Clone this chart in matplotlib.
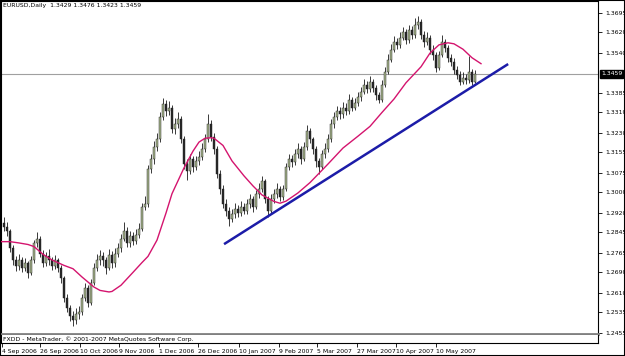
import matplotlib
matplotlib.use("Agg")
import matplotlib.pyplot as plt
from matplotlib.patches import Rectangle
from matplotlib.transforms import blended_transform_factory

plt.rcParams['font.family'] = ['Liberation Sans Narrow', 'DejaVu Sans']

# daily EURUSD bars
opens = [1.2880, 1.2867, 1.2852, 1.2783, 1.2736, 1.2713, 1.2736, 1.2706, 1.2725, 1.2686,
         1.2736, 1.2802, 1.2821, 1.2763, 1.2725, 1.2752, 1.2736, 1.2713, 1.2736, 1.2706,
         1.2667, 1.2590, 1.2552, 1.2521, 1.2505, 1.2528, 1.2536, 1.2590, 1.2629, 1.2571,
         1.2648, 1.2706, 1.2736, 1.2752, 1.2736, 1.2706, 1.2759, 1.2725, 1.2763, 1.2783,
         1.2821, 1.2852, 1.2802, 1.2829, 1.2813, 1.2836, 1.2860, 1.2944, 1.2956, 1.3091,
         1.3129, 1.3175, 1.3206, 1.3291, 1.3341, 1.3314, 1.3329, 1.3245, 1.3264, 1.3283,
         1.3206, 1.3110, 1.3083, 1.3129, 1.3098, 1.3121, 1.3137, 1.3168, 1.3206, 1.3264,
         1.3214, 1.3168, 1.3071, 1.3014, 1.2956, 1.2929, 1.2898, 1.2917, 1.2937, 1.2921,
         1.2944, 1.2929, 1.2956, 1.2975, 1.2944, 1.2994, 1.3014, 1.3044, 1.2975, 1.2929,
         1.2975, 1.2994, 1.3014, 1.2983, 1.3014, 1.3098, 1.3129, 1.3117, 1.3148, 1.3168,
         1.3129, 1.3175, 1.3237, 1.3206, 1.3168, 1.3121, 1.3098, 1.3148, 1.3168, 1.3206,
         1.3264, 1.3291, 1.3314, 1.3302, 1.3329, 1.3314, 1.3360, 1.3329, 1.3345, 1.3368,
         1.3391, 1.3418, 1.3399, 1.3429, 1.3406, 1.3379, 1.3360, 1.3418, 1.3468, 1.3514,
         1.3553, 1.3583, 1.3572, 1.3599, 1.3622, 1.3591, 1.3630, 1.3610, 1.3649, 1.3660,
         1.3610, 1.3583, 1.3599, 1.3553, 1.3533, 1.3483, 1.3533, 1.3583, 1.3560, 1.3522,
         1.3506, 1.3476, 1.3456, 1.3429, 1.3445, 1.3437, 1.3468, 1.3429]
closes = [1.2867, 1.2852, 1.2783, 1.2736, 1.2713, 1.2736, 1.2706, 1.2725, 1.2686, 1.2736,
          1.2802, 1.2821, 1.2763, 1.2725, 1.2752, 1.2736, 1.2713, 1.2736, 1.2706, 1.2667,
          1.2590, 1.2552, 1.2521, 1.2505, 1.2528, 1.2536, 1.2590, 1.2629, 1.2571, 1.2648,
          1.2706, 1.2736, 1.2752, 1.2736, 1.2706, 1.2759, 1.2725, 1.2763, 1.2783, 1.2821,
          1.2852, 1.2802, 1.2829, 1.2813, 1.2836, 1.2860, 1.2944, 1.2956, 1.3091, 1.3129,
          1.3175, 1.3206, 1.3291, 1.3341, 1.3314, 1.3329, 1.3245, 1.3264, 1.3283, 1.3206,
          1.3110, 1.3083, 1.3129, 1.3098, 1.3121, 1.3137, 1.3168, 1.3206, 1.3264, 1.3214,
          1.3168, 1.3071, 1.3014, 1.2956, 1.2929, 1.2898, 1.2917, 1.2937, 1.2921, 1.2944,
          1.2929, 1.2956, 1.2975, 1.2944, 1.2994, 1.3014, 1.3044, 1.2975, 1.2929, 1.2975,
          1.2994, 1.3014, 1.2983, 1.3014, 1.3098, 1.3129, 1.3117, 1.3148, 1.3168, 1.3129,
          1.3175, 1.3237, 1.3206, 1.3168, 1.3121, 1.3098, 1.3148, 1.3168, 1.3206, 1.3264,
          1.3291, 1.3314, 1.3302, 1.3329, 1.3314, 1.3360, 1.3329, 1.3345, 1.3368, 1.3391,
          1.3418, 1.3399, 1.3429, 1.3406, 1.3379, 1.3360, 1.3418, 1.3468, 1.3514, 1.3553,
          1.3583, 1.3572, 1.3599, 1.3622, 1.3591, 1.3630, 1.3610, 1.3649, 1.3660, 1.3610,
          1.3583, 1.3599, 1.3553, 1.3533, 1.3483, 1.3533, 1.3583, 1.3560, 1.3522, 1.3506,
          1.3476, 1.3456, 1.3429, 1.3445, 1.3437, 1.3468, 1.3429, 1.3459]
highs = [1.2905, 1.2884, 1.2860, 1.2795, 1.2752, 1.2760, 1.2748, 1.2745, 1.2735, 1.2755,
         1.2815, 1.2845, 1.2830, 1.2775, 1.2770, 1.2780, 1.2750, 1.2758, 1.2745, 1.2720,
         1.2675, 1.2605, 1.2565, 1.2540, 1.2550, 1.2560, 1.2605, 1.2650, 1.2640, 1.2665,
         1.2725, 1.2760, 1.2775, 1.2770, 1.2748, 1.2780, 1.2772, 1.2785, 1.2805, 1.2840,
         1.2885, 1.2865, 1.2850, 1.2845, 1.2858, 1.2880, 1.2960, 1.2985, 1.3105, 1.3150,
         1.3200, 1.3230, 1.3310, 1.3365, 1.3360, 1.3355, 1.3340, 1.3290, 1.3310, 1.3295,
         1.3220, 1.3130, 1.3150, 1.3140, 1.3140, 1.3160, 1.3190, 1.3225, 1.3305, 1.3280,
         1.3230, 1.3180, 1.3085, 1.3030, 1.2975, 1.2945, 1.2935, 1.2960, 1.2950, 1.2965,
         1.2960, 1.2975, 1.2995, 1.2985, 1.3010, 1.3035, 1.3065, 1.3050, 1.2985, 1.2995,
         1.3015, 1.3035, 1.3025, 1.3030, 1.3115, 1.3150, 1.3145, 1.3170, 1.3190, 1.3180,
         1.3195, 1.3260, 1.3250, 1.3215, 1.3180, 1.3135, 1.3165, 1.3190, 1.3225, 1.3285,
         1.3310, 1.3335, 1.3330, 1.3350, 1.3345, 1.3380, 1.3370, 1.3365, 1.3390, 1.3410,
         1.3440, 1.3430, 1.3450, 1.3440, 1.3415, 1.3390, 1.3435, 1.3485, 1.3535, 1.3575,
         1.3605, 1.3600, 1.3620, 1.3640, 1.3635, 1.3650, 1.3645, 1.3675, 1.3682, 1.3672,
         1.3625, 1.3620, 1.3610, 1.3570, 1.3545, 1.3550, 1.3610, 1.3595, 1.3570, 1.3535,
         1.3520, 1.3490, 1.3470, 1.3465, 1.3460, 1.3530, 1.3478, 1.3476]
lows = [1.2850, 1.2830, 1.2770, 1.2718, 1.2695, 1.2700, 1.2690, 1.2695, 1.2670, 1.2678,
        1.2725, 1.2790, 1.2750, 1.2710, 1.2715, 1.2720, 1.2698, 1.2702, 1.2690, 1.2650,
        1.2575, 1.2535, 1.2500, 1.2482, 1.2490, 1.2510, 1.2525, 1.2580, 1.2555, 1.2565,
        1.2640, 1.2695, 1.2720, 1.2715, 1.2685, 1.2698, 1.2705, 1.2712, 1.2748, 1.2770,
        1.2810, 1.2790, 1.2788, 1.2795, 1.2800, 1.2822, 1.2850, 1.2930, 1.2945, 1.3075,
        1.3110, 1.3160, 1.3195, 1.3280, 1.3295, 1.3300, 1.3230, 1.3225, 1.3250, 1.3190,
        1.3090, 1.3048, 1.3070, 1.3080, 1.3085, 1.3105, 1.3125, 1.3155, 1.3195, 1.3200,
        1.3150, 1.3055, 1.2995, 1.2940, 1.2910, 1.2870, 1.2885, 1.2900, 1.2905, 1.2910,
        1.2915, 1.2918, 1.2940, 1.2925, 1.2935, 1.2980, 1.3000, 1.2960, 1.2905, 1.2920,
        1.2960, 1.2980, 1.2965, 1.2970, 1.3005, 1.3085, 1.3100, 1.3105, 1.3135, 1.3110,
        1.3120, 1.3165, 1.3190, 1.3150, 1.3100, 1.3070, 1.3090, 1.3135, 1.3155, 1.3195,
        1.3250, 1.3280, 1.3285, 1.3290, 1.3300, 1.3305, 1.3315, 1.3320, 1.3335, 1.3355,
        1.3380, 1.3385, 1.3390, 1.3390, 1.3360, 1.3345, 1.3352, 1.3410, 1.3460, 1.3505,
        1.3545, 1.3555, 1.3560, 1.3590, 1.3575, 1.3580, 1.3595, 1.3600, 1.3635, 1.3595,
        1.3565, 1.3570, 1.3535, 1.3515, 1.3468, 1.3475, 1.3525, 1.3545, 1.3505, 1.3490,
        1.3460, 1.3440, 1.3415, 1.3420, 1.3420, 1.3425, 1.3418, 1.3423]

# moving average (pink) read at selected bars
ma_bar = [-1, 2, 5, 8, 10, 13, 16, 20, 23, 26, 30, 32, 35, 36, 39, 43, 46, 48, 51, 54,
          56, 58, 60, 63, 65, 67, 69, 70, 73, 76, 80, 83, 86, 90, 92, 94, 98, 102, 103,
          108, 113, 118, 122, 126, 130, 134, 139, 142, 145, 148, 150, 153, 156, 159]
ma_val = [1.2809, 1.2809, 1.2804, 1.2798, 1.2790, 1.2760, 1.2738, 1.2717, 1.2704, 1.2672,
          1.2633, 1.2620, 1.2614, 1.2616, 1.2640, 1.2690, 1.2728, 1.2752, 1.2815, 1.2920,
          1.2995, 1.3045, 1.3095, 1.3160, 1.3195, 1.3210, 1.3212, 1.3210, 1.3182, 1.3122,
          1.3064, 1.3025, 1.2990, 1.2965, 1.2958, 1.2966, 1.2998, 1.3038, 1.3050, 1.3110,
          1.3172, 1.3218, 1.3256, 1.3310, 1.3362, 1.3425, 1.3487, 1.3540, 1.3572, 1.3580,
          1.3576, 1.3555, 1.3522, 1.3499]

# hand drawn trend line
trend_bar = [73.7, 167.7]
trend_val = [1.2802, 1.3495]

last_price = 1.3459
price_ticks = [1.3695, 1.3620, 1.3540, 1.3385, 1.3310, 1.3230, 1.3155, 1.3075, 1.3000,
               1.2920, 1.2845, 1.2765, 1.2690, 1.2610, 1.2535, 1.2455]
date_pos = [-0.7, 12, 25.3, 38.3, 51.7, 64.7, 78.3, 91.7, 104.3, 117.7, 130.7, 144]
date_labels = ['4 Sep 2006', '26 Sep 2006', '10 Oct 2006', '9 Nov 2006', '1 Dec 2006',
               '26 Dec 2006', '10 Jan 2007', '9 Feb 2007', '5 Mar 2007', '27 Mar 2007',
               '10 Apr 2007', '10 May 2007']

W, H = 625, 356
fig = plt.figure(figsize=(W / 100, H / 100), dpi=100)
fs = 4.4


def px_axes(x0, y0, x1, y1):
    return fig.add_axes([x0 / W, 1 - y1 / H, (x1 - x0) / W, (y1 - y0) / H])


ax = px_axes(1, 1, 598, 334)
ax.set_xlim(-1, 198)
ax.set_ylim(1.2451, 1.3742)

bars = range(len(closes))
ax.axhline(last_price, color='#a0a0a0', lw=0.8, zorder=1)
ax.vlines(bars, lows, highs, color='#1a1a1a', lw=0.6, zorder=2)
body_low = [min(o, c) for o, c in zip(opens, closes)]
body_h = [max(abs(c - o), 0.0003) for o, c in zip(opens, closes)]
body_col = ['#a6b38c' if c >= o else '#2a2a2a' for o, c in zip(opens, closes)]
ax.bar(bars, body_h, bottom=body_low, width=0.6, color=body_col,
       edgecolor='#1a1a1a', linewidth=0.3, zorder=3)

ax.plot(ma_bar, ma_val, color='#d4146e', lw=1.0, zorder=4)
ax.plot(trend_bar, trend_val, color='#1c1ca8', lw=1.8, zorder=5)

ax.set_xticks([])
ax.yaxis.tick_right()
ax.set_yticks(price_ticks)
ax.set_yticklabels([f'{v:.4f}' for v in price_ticks])
ax.tick_params(axis='y', length=3, width=0.6, labelsize=fs, pad=2, colors='black')
for s in ['left', 'right', 'top']:
    ax.spines[s].set_linewidth(0.8)
ax.spines['bottom'].set_color('#808080')
ax.spines['bottom'].set_linewidth(2)

trans = blended_transform_factory(ax.transAxes, ax.transData)
ax.text(1.005, last_price, f'{last_price:.4f}', transform=trans, ha='left', va='center',
        fontsize=fs, color='white',
        bbox=dict(boxstyle='square,pad=0.2', facecolor='black', edgecolor='black'))

ax.text(0.004, 0.993, 'EURUSD,Daily  1.3429 1.3476 1.3423 1.3459', transform=ax.transAxes,
        ha='left', va='top', fontsize=fs)

band = px_axes(1, 335, 598, 343)
band.set_xlim(-1, 198)
band.set_ylim(0, 1)
band.set_yticks([])
band.spines['top'].set_visible(False)
for s in ['left', 'right', 'bottom']:
    band.spines[s].set_linewidth(0.8)
band.text(0.003, 0.45, 'FXDD - MetaTrader, \u00a9 2001-2007 MetaQuotes Software Corp.',
          transform=band.transAxes, ha='left', va='center', fontsize=fs)
band.set_xticks(date_pos)
band.set_xticklabels(date_labels, ha='left')
band.tick_params(axis='x', length=3, width=0.6, labelsize=fs, pad=1)

fig.patches.append(Rectangle((0, 0), 1, 1, transform=fig.transFigure, fill=False,
                             edgecolor='black', lw=1.5))

fig.savefig('out.png', dpi=100)
